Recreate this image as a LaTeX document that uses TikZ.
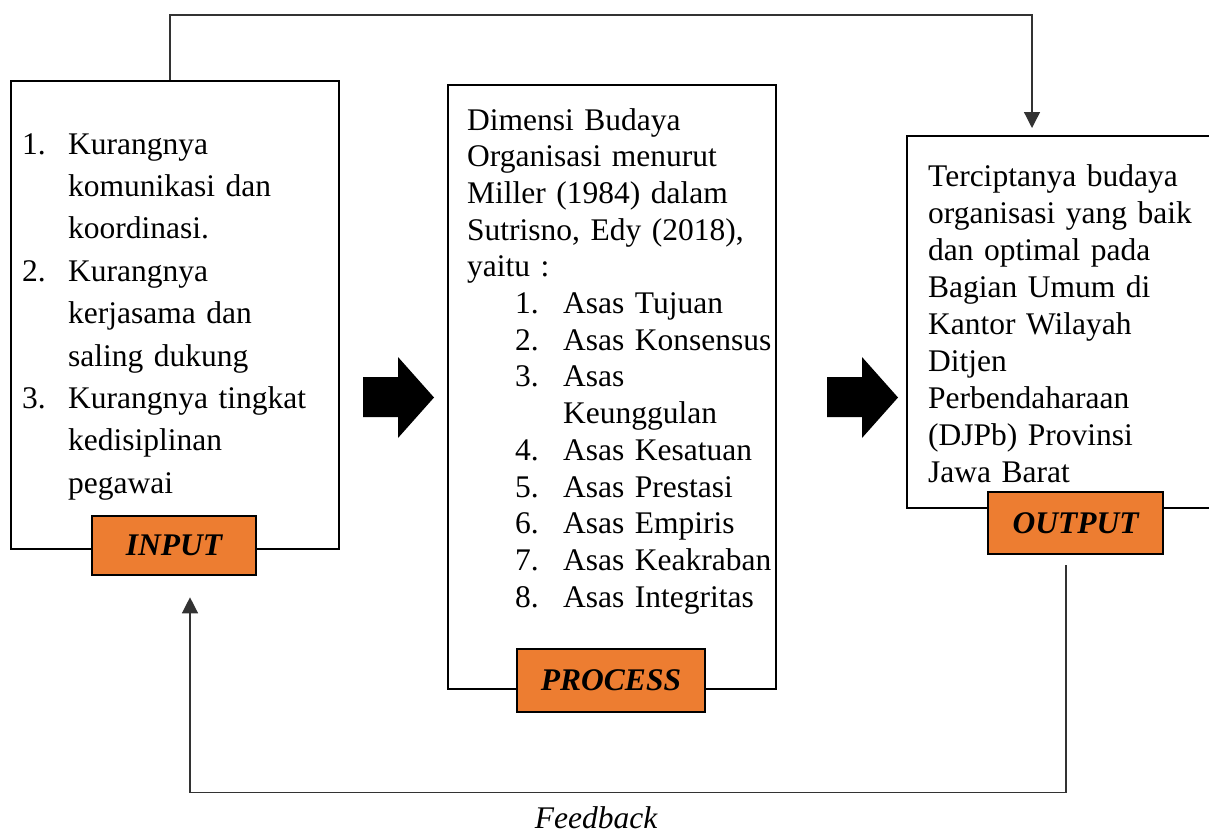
\documentclass[tikz,border=0pt]{standalone}
\usepackage{fontspec}
\setmainfont{Liberation Serif}
\usetikzlibrary{positioning,arrows.meta}
\definecolor{labelorange}{HTML}{ED7D31}
\tikzset{
  bigbox/.style={draw, line width=2.4pt, inner sep=0pt, anchor=north west},
  labelbox/.style={draw, line width=2.6pt, fill=labelorange, inner sep=0pt,
    font=\fontsize{31.5}{38}\selectfont\bfseries\itshape},
  bodytext/.style={inner sep=0pt, anchor=base west, align=left, text width=#1},
  flow/.style={line width=1.3pt, draw=black!80,
    -{Triangle[width=16pt,length=16pt]}},
}
\begin{document}
\begin{tikzpicture}[x=1pt,y=-1pt]
        \useasboundingbox (0,0) rectangle (1209,835);
        \clip (0,0) rectangle (1209,835);
        % three boxes
        \node[bigbox, minimum width=328pt, minimum height=468pt] (inbox) at (10,80) {};
        \node[bigbox, minimum width=328pt, minimum height=604pt] (procbox) at (447,84) {};
        \node[bigbox, minimum width=330pt, minimum height=372pt] (outbox) at (906,135) {};
        % texts
        \node[bodytext=310pt, font=\fontsize{31.5}{42.4}\selectfont] (intext) at (22,154)
          {\makebox[46pt][l]{1.}Kurangnya\\
           \hspace*{46pt}komunikasi dan\\
           \hspace*{46pt}koordinasi.\\
           \makebox[46pt][l]{2.}Kurangnya\\
           \hspace*{46pt}kerjasama dan\\
           \hspace*{46pt}saling dukung\\
           \makebox[46pt][l]{3.}Kurangnya tingkat\\
           \hspace*{46pt}kedisiplinan\\
           \hspace*{46pt}pegawai};
        \node[bodytext=320pt, font=\fontsize{31.5}{36.7}\selectfont] (proctext) at (467,130)
          {Dimensi Budaya\\
           Organisasi menurut\\
           Miller (1984) dalam\\
           Sutrisno, Edy (2018),\\
           yaitu :\\
           \hspace*{48pt}\makebox[48pt][l]{1.}Asas Tujuan\\
           \hspace*{48pt}\makebox[48pt][l]{2.}Asas Konsensus\\
           \hspace*{48pt}\makebox[48pt][l]{3.}Asas\\
           \hspace*{96pt}Keunggulan\\
           \hspace*{48pt}\makebox[48pt][l]{4.}Asas Kesatuan\\
           \hspace*{48pt}\makebox[48pt][l]{5.}Asas Prestasi\\
           \hspace*{48pt}\makebox[48pt][l]{6.}Asas Empiris\\
           \hspace*{48pt}\makebox[48pt][l]{7.}Asas Keakraban\\
           \hspace*{48pt}\makebox[48pt][l]{8.}Asas Integritas};
        \node[bodytext=290pt, font=\fontsize{31.5}{37}\selectfont] (outtext) at (928,186)
          {Terciptanya budaya\\
           organisasi yang baik\\
           dan optimal pada\\
           Bagian Umum di\\
           Kantor Wilayah\\
           Ditjen\\
           Perbendaharaan\\
           (DJPb) Provinsi\\
           Jawa Barat};
        % labels
        \node[labelbox, minimum width=164pt, minimum height=59pt] (inlab) at (174,545.5) {INPUT};
        \node[labelbox, minimum width=188pt, minimum height=63pt] (proclab) at (611,680.5) {PROCESS};
        \node[labelbox, minimum width=175pt, minimum height=62pt] (outlab) at (1075.5,523) {OUTPUT};
        % block arrows
        \foreach \dx in {0,464}
         {
        \fill (363+\dx,377) -- (398+\dx,377) -- (398+\dx,357) -- (434+\dx,397.5)
          -- (398+\dx,438) -- (398+\dx,417) -- (363+\dx,417) -- cycle;
         }
        % connectors
        \draw[flow, shorten >=7pt] ([xshift=160pt]inbox.north west) -- ++(0,-65)
          -| ([xshift=126pt]outbox.north west);
        \draw[flow] ([xshift=-9.5pt,yshift=-10pt]outlab.south) -- ++(0,227)
          -| ([xshift=16pt,yshift=-21pt]inlab.south);
        \node[anchor=base, inner sep=0pt, font=\fontsize{31.5}{38}\selectfont\itshape]
          (fb) at (596,828) {Feedback};
\end{tikzpicture}
\end{document}
